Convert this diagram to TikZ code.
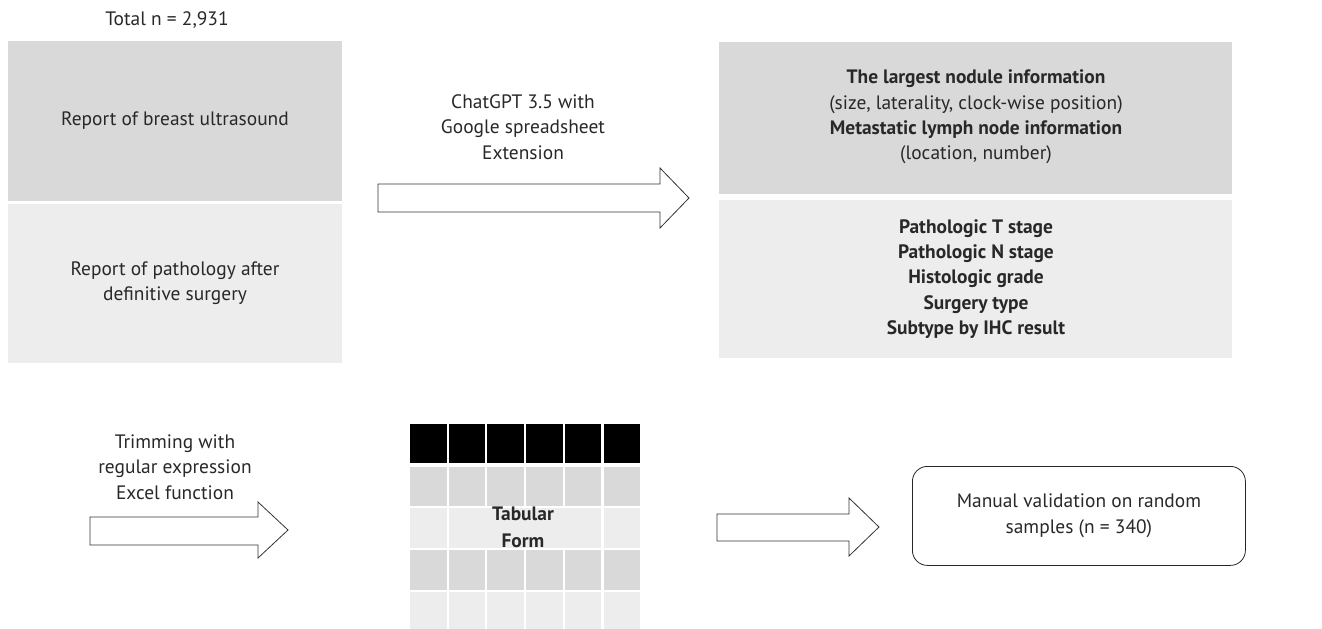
\documentclass[tikz,border=0pt]{standalone}
\usepackage{fontspec}
\setmainfont{PT Sans}
\usetikzlibrary{positioning}
\definecolor{gdark}{RGB}{217,217,217}
\definecolor{glight}{RGB}{237,237,237}
\definecolor{txt}{RGB}{40,40,40}
\tikzset{
  lbl/.style={align=center, text=txt, font=\fontsize{19.5}{25.5}\selectfont},
  blockarrow/.style={draw=black!80, line width=0.8pt, fill=white, line join=miter},
}
\begin{document}
\begin{tikzpicture}[x=1bp,y=-1bp]
\useasboundingbox (0,0) rectangle (1322,629);
% left panels
\fill[gdark] (8,41) rectangle (342,201);
\fill[glight] (8,204) rectangle (342,363);
\node[lbl] (total) at (167,20) {Total n = 2,931};
\node[lbl] (us) at (175,121) {Report of breast ultrasound};
\node[lbl] (path) at (175,283) {Report of pathology after\\definitive surgery};
% right panels
\fill[gdark] (719,42) rectangle (1232,194);
\fill[glight] (719,200) rectangle (1232,358);
\node[lbl] (info) at (976,117) {\textbf{The largest nodule information}\\(size, laterality, clock-wise position)\\\textbf{Metastatic lymph node information}\\(location, number)};
\node[lbl, font=\bfseries\fontsize{19.5}{25.5}\selectfont] (stage) at (976,279) {Pathologic T stage\\Pathologic N stage\\Histologic grade\\Surgery type\\Subtype by IHC result};
% arrow 1
\draw[blockarrow] (378,184) -- (660,184) -- (660,168) -- (689,198) -- (660,228) -- (660,212) -- (378,212) -- cycle;
\node[lbl] (gpt) at (523,127) {ChatGPT 3.5 with\\Google spreadsheet\\Extension};
% arrow 2
\draw[blockarrow] (90,517) -- (258,517) -- (258,502) -- (288,530) -- (258,558) -- (258,545) -- (90,545) -- cycle;
\node[lbl] (trim) at (175,467) {Trimming with\\regular expression\\Excel function};
% table
\foreach \i in {0,...,5} {
  \pgfmathsetmacro{\xa}{410+\i*38.7}
  \pgfmathsetmacro{\xb}{\xa+36.5}
  \fill[black] (\xa,424) rectangle (\xb,463);
  \fill[gdark] (\xa,467) rectangle (\xb,506);
  \fill[glight] (\xa,508) rectangle (\xb,548);
  \fill[gdark] (\xa,550) rectangle (\xb,590);
  \fill[glight] (\xa,592) rectangle (\xb,629);
}
\fill[glight] (472,508) rectangle (583,548);
\node[lbl, font=\bfseries\fontsize{19.5}{27}\selectfont] (tab) at (523,527) {Tabular\\Form};
% arrow 3
\draw[blockarrow] (717,514) -- (849,514) -- (849,498) -- (879,527) -- (849,556) -- (849,541) -- (717,541) -- cycle;
% rounded box
\node[draw=black!85, line width=0.8pt, rounded corners=15bp, minimum width=333bp, minimum height=99bp, anchor=north west, inner sep=0pt] (manual) at (912,466) {};
\node[lbl] (mtxt) at (manual.center) {Manual validation on random\\samples (n = 340)};
\end{tikzpicture}
\end{document}
